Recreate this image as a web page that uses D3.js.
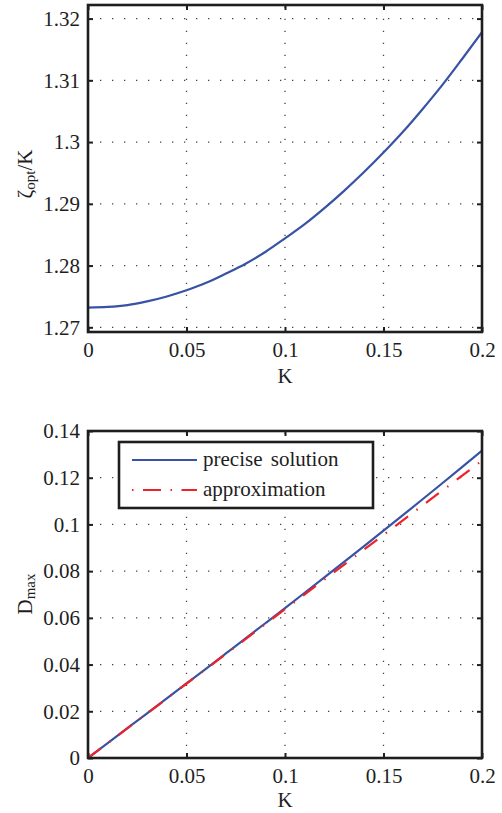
<!DOCTYPE html>
<html><head><meta charset="utf-8">
<script src="https://cdn.jsdelivr.net/npm/d3@7"></script>
<style>
html,body{margin:0;padding:0;background:#fff;}
svg{display:block;font-family:"Liberation Serif","DejaVu Serif",serif;}
svg text{font-family:"Liberation Serif","DejaVu Serif",serif;}
</style></head>
<body>
<script>
// ---- data ----
const K = [0,0.01,0.02,0.03,0.04,0.05,0.06,0.07,0.08,0.09,0.10,0.11,0.12,0.13,0.14,0.15,0.16,0.17,0.18,0.19,0.20];
const zetaOverK = [1.2732,1.2733,1.2736,1.2742,1.2750,1.2760,1.2772,1.2787,1.2803,1.2822,1.2844,1.2867,1.2893,1.2921,1.2951,1.2983,1.3017,1.3054,1.3093,1.3135,1.3178];
const dPrecise = [0,0.00637,0.01274,0.01911,0.02550,0.03190,0.03831,0.04475,0.05120,0.05769,0.06420,0.07075,0.07733,0.08394,0.09060,0.09731,0.10407,0.11088,0.11774,0.12466,0.13164];
const Kapprox = [0,0.05,0.10,0.15,0.20];
const dApprox = [0,0.0318,0.0637,0.0955,0.1273];
const xTicks = [0,0.05,0.1,0.15,0.2];
const xTickLabels = ["0","0.05","0.1","0.15","0.2"];
const yTicksTop = [1.27,1.28,1.29,1.30,1.31,1.32];
const yTickLabelsTop = ["1.27","1.28","1.29","1.3","1.31","1.32"];
const yTicksBot = [0,0.02,0.04,0.06,0.08,0.10,0.12,0.14];
const yTickLabelsBot = ["0","0.02","0.04","0.06","0.08","0.1","0.12","0.14"];
const legendLabels = ["precise solution","approximation"];

const W=502,H=813;
const svg=d3.select("body").append("svg").attr("width",W).attr("height",H);
const blue="#3852a4", red="#ee2229", axisCol="#1e1e1e";

function panel(o){
  const g=svg.append("g");
  const x=d3.scaleLinear().domain([0,0.2]).range([o.left,o.right]);
  const y=d3.scaleLinear().domain(o.ydom).range([o.bottom,o.top]);
  const id="clip"+o.name;
  svg.append("clipPath").attr("id",id).append("rect")
    .attr("x",o.left).attr("y",o.top).attr("width",o.right-o.left).attr("height",o.bottom-o.top);
  // grid
  const grid=g.append("g").attr("stroke","#444").attr("stroke-width",1.3).attr("stroke-dasharray","1.3,10.7");
  xTicks.filter(v=>v>0&&v<0.2).forEach(v=>{
    grid.append("line").attr("x1",x(v)).attr("x2",x(v)).attr("y1",o.bottom).attr("y2",o.top);
  });
  o.yticks.filter(v=>y(v)<o.bottom-1 && y(v)>o.top+1).forEach(v=>{
    grid.append("line").attr("x1",o.left).attr("x2",o.right).attr("y1",y(v)).attr("y2",y(v));
  });
  // axes with d3
  const ax=g.append("g");
  const bottomAxis=d3.axisBottom(x).tickValues(xTicks).tickFormat((d,i)=>xTickLabels[i]).tickSizeInner(-5).tickSizeOuter(0).tickPadding(10);
  const bA=ax.append("g").attr("transform",`translate(0,${o.bottom})`).call(bottomAxis);
  ax.append("g").attr("transform",`translate(0,${o.top})`).call(d3.axisTop(x).tickValues(xTicks).tickSizeInner(-5).tickSizeOuter(0).tickFormat(""));
  const leftAxis=d3.axisLeft(y).tickValues(o.yticks).tickFormat((d,i)=>o.ylabels[i]).tickSizeInner(-5).tickSizeOuter(0).tickPadding(8);
  ax.append("g").attr("transform",`translate(${o.left},0)`).call(leftAxis);
  ax.append("g").attr("transform",`translate(${o.right},0)`).call(d3.axisRight(y).tickValues(o.yticks).tickSizeInner(-5).tickSizeOuter(0).tickFormat(""));
  ax.selectAll("g").attr("font-family",null);
  ax.selectAll(".domain").remove();
  ax.selectAll(".tick line").attr("stroke",axisCol).attr("stroke-width",2);
  ax.selectAll(".tick text").attr("font-size",21).attr("fill","#1e1e1e");
  bA.selectAll(".tick text").attr("dy","0.71em");
  // curves
  const cg=g.append("g").attr("clip-path",`url(#${id})`);
  o.series.forEach(s=>{
    const line=d3.line().x((d,i)=>x(s.xs[i])).y(d=>y(d)).curve(d3.curveMonotoneX);
    cg.append("path").datum(s.ys).attr("d",line).attr("fill","none")
      .attr("stroke",s.color).attr("stroke-width",2.2).attr("stroke-dasharray",s.dash||null);
  });
  // box
  g.append("rect").attr("x",o.left).attr("y",o.top).attr("width",o.right-o.left).attr("height",o.bottom-o.top)
    .attr("fill","none").attr("stroke",axisCol).attr("stroke-width",2.6);
  // x label
  g.append("text").attr("x",x(0.1)).attr("y",o.xlabY).attr("text-anchor","middle").attr("font-size",21).attr("fill","#1e1e1e").text("K");
  return {g,x,y};
}

// top
panel({name:"a",left:88,right:482,top:5,bottom:332,ydom:[1.26924,1.3222],
  yticks:yTicksTop,ylabels:yTickLabelsTop,xlabY:383,
  series:[{xs:K,ys:zetaOverK,color:blue}]});
const yl1=svg.append("text").attr("transform","translate(32,174) rotate(-90)").attr("text-anchor","middle").attr("font-size",21).attr("fill","#1e1e1e");
yl1.append("tspan").text("ζ");
yl1.append("tspan").attr("font-size",15).attr("dy",3).text("opt");
yl1.append("tspan").attr("dy",-3).text("/K");

// bottom
panel({name:"b",left:88,right:482,top:431,bottom:758,ydom:[0,0.14],
  yticks:yTicksBot,ylabels:yTickLabelsBot,xlabY:807,
  series:[{xs:K,ys:dPrecise,color:blue},{xs:Kapprox,ys:dApprox,color:red,dash:"16,10.5,1.5,10.5"}]});
const yl2=svg.append("text").attr("transform","translate(32,594) rotate(-90)").attr("text-anchor","middle").attr("font-size",21).attr("fill","#1e1e1e");
yl2.append("tspan").text("D");
yl2.append("tspan").attr("font-size",15).attr("dy",3).text("max");

// legend
const lg=svg.append("g");
lg.append("rect").attr("x",119).attr("y",442).attr("width",254).attr("height",66).attr("fill","#fff").attr("stroke",axisCol).attr("stroke-width",2.6);
const legendColors=[blue,red], legendDash=[null,"1.5,9.5,18,9.5"];
legendLabels.forEach((t,i)=>{
  const yy=460+i*30;
  lg.append("line").attr("x1",132).attr("x2",197).attr("y1",yy).attr("y2",yy).attr("stroke",legendColors[i]).attr("stroke-width",2.2).attr("stroke-dasharray",legendDash[i]);
  lg.append("text").attr("x",203).attr("y",yy+6).attr("font-size",21).attr("word-spacing",3).attr("fill","#1e1e1e").text(t);
});
</script>
</body></html>
